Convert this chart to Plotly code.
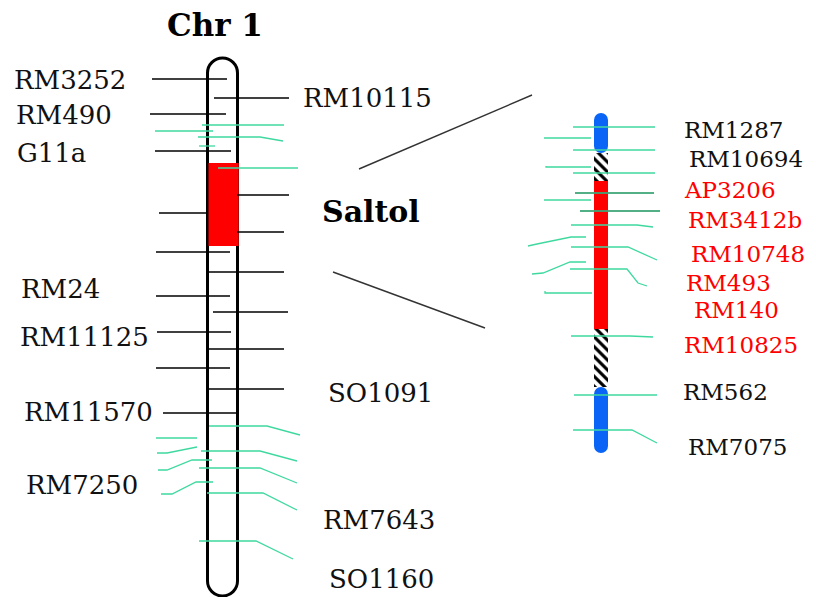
import plotly.graph_objects as go

# ---------------- data ----------------
# Left chromosome (Chr 1) markers: black ticks (y position, x start, x end)
chr1_black_y  = [79, 98, 114, 151, 195, 213, 232, 252, 272, 296, 312, 332, 349, 368, 389, 413]
chr1_black_x0 = [152, 214, 150, 155, 237, 159, 237, 156, 209, 156, 213, 157, 209, 156, 209, 163]
chr1_black_x1 = [227, 289, 226, 231, 289, 207, 284, 230, 284, 230, 288, 231, 284, 230, 284, 237]

# Left chromosome green markers: polyline (inner x, y) -> bend x -> (end x, end y) -> tail x
chr1_green_y     = [125, 131, 137, 146, 168, 426, 438, 447, 451, 460, 468, 482, 493, 541]
chr1_green_xa    = [202, 213, 198, 215, 218, 209, 197, 197, 201, 212, 199, 213, 207, 199]
chr1_green_xb    = [284, 155, 260, 199, 298, 267, 156, 197, 260, 192, 260, 196, 263, 256]
chr1_green_xc    = [284, 155, 283, 199, 298, 300, 156, 167, 297, 167, 297, 172, 297, 293]
chr1_green_yc    = [125, 131, 141, 146, 168, 435, 438, 453, 461, 470, 483, 494, 510, 559]
chr1_green_xd    = [284, 155, 283, 199, 298, 300, 156, 157, 297, 158, 297, 161, 297, 293]

chr1_left_labels  = ["RM3252", "RM490", "G11a", "RM24", "RM11125", "RM11570", "RM7250"]
chr1_left_label_y = [80, 115, 153, 289, 337, 412, 485]
chr1_right_labels  = ["RM10115", "SO1091", "RM7643", "SO1160"]
chr1_right_label_y = [98, 393, 520, 579]

# Saltol region on Chr 1
saltol_start, saltol_end = 163, 246
chr1_top, chr1_bottom = 58, 596

# Right (zoomed) segment: segments (start, end, kind)
seg_start = [113, 153, 181, 329, 387]
seg_end   = [153, 181, 329, 387, 453]
seg_kind  = ["blue", "hatch", "red", "hatch", "blue"]

# Zoomed segment green markers
zoom_green_y  = [127, 138, 150, 167, 173, 193, 200, 211, 225, 237, 247, 262, 269, 293, 336, 395, 430]
zoom_green_xa = [573, 591, 573, 591, 573, 575, 591, 580, 571, 586, 571, 586, 570, 592, 571, 574, 573]
zoom_green_xb = [655, 544, 655, 546, 655, 654, 544, 660, 637, 571, 628, 570, 627, 545, 630, 657, 632]
zoom_green_xc = [655, 544, 655, 546, 655, 654, 544, 660, 653, 537, 657, 543, 638, 545, 653, 657, 657]
zoom_green_yc = [127, 138, 150, 167, 173, 193, 200, 211, 227, 244, 260, 273, 283, 293, 337, 395, 443]
zoom_green_xd = [655, 544, 655, 546, 655, 654, 544, 660, 653, 528, 657, 532, 647, 545, 653, 657, 657]
zoom_green_yd = [127, 138, 150, 166, 173, 193, 200, 211, 227, 246, 260, 274, 286, 291, 337, 395, 443]

zoom_labels   = ["RM1287", "RM10694", "AP3206", "RM3412b", "RM10748", "RM493", "RM140", "RM10825", "RM562", "RM7075"]
zoom_label_y  = [130, 159, 190, 220, 254, 283, 310, 345, 392, 447]
zoom_label_red = [False, False, True, True, True, True, True, True, False, False]

# ---------------- layout constants ----------------
W, H = 816, 597
PAGE_OFFSET = 8          # default body margin of the html page
GREEN = "#3fd9a0"
BLUE = "#0a64f5"
RED = "#ff0000"
FONT = "DejaVu Serif"

chr1_x0, chr1_x1 = 207.5, 237.5
zoom_cx, zoom_w = 601, 14

left_label_x = [13, 15, 16, 20, 19, 23, 25]
right_label_x = [302, 327, 322, 328]
zoom_label_x = [683, 688, 683, 687, 690, 685, 693, 683, 682, 687]

fig = go.Figure()

# ---- Chr 1 outline (rounded) ----
k = 0.5523
r = (chr1_x1 - chr1_x0) / 2
cx = (chr1_x0 + chr1_x1) / 2
t, b = chr1_top, chr1_bottom
path = (f"M {chr1_x0},{t + r} "
        f"C {chr1_x0},{t + r - k * r} {cx - k * r},{t} {cx},{t} "
        f"C {cx + k * r},{t} {chr1_x1},{t + r - k * r} {chr1_x1},{t + r} "
        f"L {chr1_x1},{b - r} "
        f"C {chr1_x1},{b - r + k * r} {cx + k * r},{b} {cx},{b} "
        f"C {cx - k * r},{b} {chr1_x0},{b - r + k * r} {chr1_x0},{b - r} Z")
fig.add_shape(type="path", path=path, line=dict(color="black", width=3),
              fillcolor="white", layer="below")
fig.add_shape(type="rect", x0=chr1_x0 + 1, x1=chr1_x1 + 1.2, y0=saltol_start, y1=saltol_end,
              fillcolor=RED, line=dict(width=0), layer="below")

# ---- Chr 1 black ticks ----
for y, x0, x1 in zip(chr1_black_y, chr1_black_x0, chr1_black_x1):
    fig.add_trace(go.Scatter(x=[x0, x1], y=[y, y], mode="lines",
                             line=dict(color="black", width=1.3),
                             hoverinfo="skip", showlegend=False))

# ---- Chr 1 green ticks ----
for y, xa, xb, xc, yc, xd in zip(chr1_green_y, chr1_green_xa, chr1_green_xb,
                                  chr1_green_xc, chr1_green_yc, chr1_green_xd):
    fig.add_trace(go.Scatter(x=[xa, xb, xc, xd], y=[y, y, yc, yc], mode="lines",
                             line=dict(color=GREEN, width=1.3),
                             hoverinfo="skip", showlegend=False))

# ---- zoomed segment green ticks (below bar) ----
for y, xa, xb, xc, yc, xd, yd in zip(zoom_green_y, zoom_green_xa, zoom_green_xb,
                                      zoom_green_xc, zoom_green_yc, zoom_green_xd, zoom_green_yd):
    fig.add_trace(go.Scatter(x=[xa, xb, xc, xd], y=[y, y, yc, yd], mode="lines",
                             line=dict(color=GREEN, width=1.3),
                             hoverinfo="skip", showlegend=False))

# ---- zoomed segment bars ----
for s, e, kind in zip(seg_start, seg_end, seg_kind):
    if kind == "blue":
        top_end = s == min(seg_start)
        base = e if top_end else s
        length = (s - e) if top_end else (e - s)
        fig.add_trace(go.Bar(x=[zoom_cx], y=[length], base=[base], width=zoom_w,
                             marker=dict(color=BLUE, line=dict(width=0), cornerradius=7),
                             hoverinfo="skip", showlegend=False))
    elif kind == "red":
        fig.add_trace(go.Bar(x=[zoom_cx], y=[e - s], base=[s], width=zoom_w,
                             marker=dict(color=RED, line=dict(width=0)),
                             hoverinfo="skip", showlegend=False))
    else:
        fig.add_trace(go.Bar(x=[zoom_cx], y=[e - s], base=[s], width=zoom_w,
                             marker=dict(color="white", line=dict(width=0),
                                         pattern=dict(shape="\\", fgcolor="black", bgcolor="white",
                                                      size=7, solidity=0.45, fillmode="replace")),
                             hoverinfo="skip", showlegend=False))

# marker lines visible over the red part
for y, xa, xb in zip(zoom_green_y, zoom_green_xa, zoom_green_xb):
    if y in (193, 211):
        fig.add_trace(go.Scatter(x=[xa, xb], y=[y, y], mode="lines",
                                 line=dict(color="rgba(60,130,90,0.7)", width=1.3),
                                 hoverinfo="skip", showlegend=False))

# ---- connector lines (zoom) ----
conn_x = [[359, 532], [333, 485]]
conn_y = [[169, 95], [272, 328]]
for xs, ys in zip(conn_x, conn_y):
    fig.add_trace(go.Scatter(x=xs, y=ys, mode="lines", line=dict(color="#333333", width=1.4),
                             hoverinfo="skip", showlegend=False))

# ---- text ----
ann = []
ann.append(dict(x=215, y=25, text="<b>Chr 1</b>", xanchor="center", yanchor="middle",
                font=dict(family=FONT, size=31, color="black")))
ann.append(dict(x=321, y=211, text="<b>Saltol</b>", xanchor="left", yanchor="middle",
                font=dict(family=FONT, size=30, color="black")))
for lab, y, x in zip(chr1_left_labels, chr1_left_label_y, left_label_x):
    ann.append(dict(x=x, y=y, text=lab, xanchor="left", yanchor="middle",
                    font=dict(family=FONT, size=26, color="#111111")))
for lab, y, x in zip(chr1_right_labels, chr1_right_label_y, right_label_x):
    ann.append(dict(x=x, y=y, text=lab, xanchor="left", yanchor="middle",
                    font=dict(family=FONT, size=26, color="#111111")))
for lab, y, x, red in zip(zoom_labels, zoom_label_y, zoom_label_x, zoom_label_red):
    ann.append(dict(x=x, y=y, text=lab, xanchor="left", yanchor="middle",
                    font=dict(family=FONT, size=23, color=RED if red else "#111111")))
for a in ann:
    a.update(showarrow=False, xref="x", yref="y", borderpad=0)

fig.update_layout(
    width=W - PAGE_OFFSET, height=H - PAGE_OFFSET, margin=dict(l=0, r=0, t=0, b=0),
    paper_bgcolor="white", plot_bgcolor="white",
    xaxis=dict(range=[PAGE_OFFSET, W], visible=False, fixedrange=True),
    yaxis=dict(range=[H, PAGE_OFFSET], visible=False, fixedrange=True),
    annotations=ann, barmode="overlay", showlegend=False,
)

fig.write_html("out.html")
